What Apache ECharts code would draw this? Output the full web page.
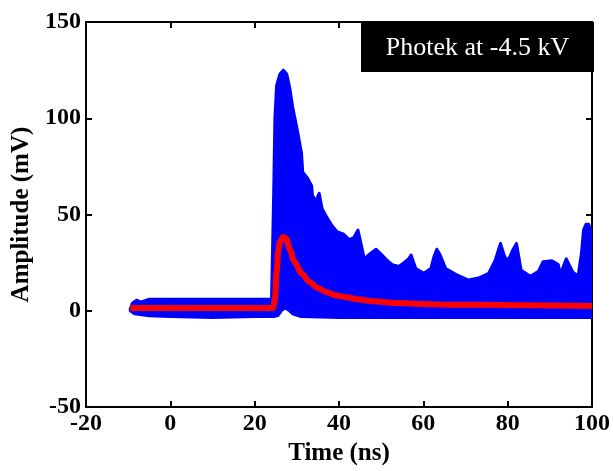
<!DOCTYPE html>
<html>
<head>
<meta charset="utf-8">
<script src="https://cdn.jsdelivr.net/npm/echarts@6/dist/echarts.min.js"></script>
<style>
  html, body { margin: 0; padding: 0; background: #fff; }
  #chart { width: 613px; height: 471px; }
</style>
</head>
<body>
<div id="chart"></div>
<script>
// Upper edge of the overlaid single-shot traces (ns, mV)
const upperTime = [-9.5, -9, -8, -7, -5, 0, 10, 20, 24.0, 24.5, 24.8, 25.2, 26.0, 26.8, 27.6, 28.3, 29.0, 30.1, 31.1, 31.4, 32.5, 33.5, 33.7, 34.5, 35.3, 36.0, 37.0, 38.4, 39.6, 41.0, 42.4, 43.5, 44.5, 45.2, 46.0, 47.0, 48.8, 50.2, 51.5, 52.6, 54.2, 55.4, 56.5, 57.1, 58.2, 60.1, 61.8, 62.5, 63.2, 64.0, 65.3, 67.7, 70.7, 73.1, 75.5, 77.0, 78.3, 79.0, 79.7, 80.5, 81.3, 82.1, 83.2, 85.4, 87.3, 88.4, 90.5, 92.0, 92.5, 93.9, 95.5, 96.7, 97.5, 98.0, 98.6, 99.2, 100];
const upperAmp  = [1, 4, 5.5, 4.5, 6, 6, 6, 6, 6, 60, 100, 117, 123, 125, 123, 116, 106, 94, 82, 72, 69, 65, 60, 57, 61, 53, 49, 44, 41, 40, 37, 38, 42, 35, 27, 29, 32, 29, 26, 24, 23, 25, 27, 29, 22, 19.5, 22, 28, 32, 29, 22, 19, 16, 17, 19.5, 26, 35, 30, 26, 28, 32, 35, 21, 18, 20.5, 25.5, 26, 24, 19, 27, 20, 18, 30, 42, 45, 45, 40];

// Lower edge of the overlaid single-shot traces (ns, mV)
const lowerTime = [-9.5, -8.5, -5, 0, 10, 20, 24.5, 25.5, 26.5, 27.3, 28.3, 29.0, 31.0, 40, 50, 60, 70, 80, 90, 100];
const lowerAmp  = [0, -1.5, -2.5, -3, -3.5, -3, -3, -2.5, 0.5, 1.5, 0, -1.5, -3, -3.5, -3.5, -3.5, -3.5, -3.5, -3.5, -3.5];

// Averaged waveform (ns, mV)
const meanTime = [-9.5, 0, 10, 20, 24.4, 24.8, 25.2, 25.6, 26.0, 26.8, 27.5, 28.3, 29.4, 31.1, 33.0, 34.9, 37.0, 39.3, 42.0, 44.3, 48, 54.2, 60, 66, 80, 100];
const meanAmp  = [1.5, 1.5, 1.5, 1.5, 1.5, 6, 20, 31, 36, 38.5, 37.5, 32, 25.6, 19.5, 15, 12, 9.7, 8, 7, 6, 5, 4, 3.5, 3.2, 3, 2.5];

// Axis ranges and tick steps
const xRange = { min: -20, max: 100, step: 20 };
const yRange = { min: -50, max: 150, step: 50 };
const boxLabel = 'Photek at -4.5 kV';

const serif = '"Liberation Serif", "Times New Roman", serif';
const chart = echarts.init(document.getElementById('chart'), null, { renderer: 'canvas' });

const axisLine = { show: true, onZero: false, lineStyle: { color: '#000', width: 2 } };
const axisTick = { show: true, inside: true, length: 6, lineStyle: { color: '#000', width: 2 } };
const tickFont = { color: '#000', fontFamily: serif, fontWeight: 'bold', fontSize: 24 };

chart.setOption({
  animation: false,
  backgroundColor: '#fff',
  grid: { left: 86, right: 19, top: 22, bottom: 58, containLabel: false },
  xAxis: [
    {
      type: 'value', position: 'bottom', min: xRange.min, max: xRange.max, interval: xRange.step,
      name: 'Time (ns)', nameLocation: 'middle', nameGap: 30,
      nameTextStyle: { color: '#000', fontFamily: serif, fontWeight: 'bold', fontSize: 25 },
      axisLine, axisTick, splitLine: { show: false },
      axisLabel: Object.assign({ margin: 5 }, tickFont)
    },
    {
      type: 'value', position: 'top', min: xRange.min, max: xRange.max, interval: xRange.step,
      axisLine, axisTick, splitLine: { show: false }, axisLabel: { show: false }
    }
  ],
  yAxis: [
    {
      type: 'value', position: 'left', min: yRange.min, max: yRange.max, interval: yRange.step,
      name: 'Amplitude (mV)', nameLocation: 'middle', nameGap: 49,
      nameTextStyle: { color: '#000', fontFamily: serif, fontWeight: 'bold', fontSize: 25 },
      axisLine, axisTick, splitLine: { show: false },
      axisLabel: Object.assign({ margin: 5 }, tickFont)
    },
    {
      type: 'value', position: 'right', min: yRange.min, max: yRange.max, interval: yRange.step,
      axisLine, axisTick, splitLine: { show: false }, axisLabel: { show: false }
    }
  ],
  series: [
    {
      // Band covered by all recorded traces
      type: 'custom',
      coordinateSystem: 'cartesian2d',
      clip: true,
      data: [[0, 0]],
      renderItem: function (params, api) {
        const top = upperTime.map((t, i) => api.coord([t, upperAmp[i]]));
        const bottom = lowerTime.map((t, i) => api.coord([t, lowerAmp[i]])).reverse();
        return {
          type: 'polygon',
          shape: { points: top.concat(bottom) },
          style: { fill: '#0000ff', stroke: '#0000ff', lineWidth: 3, lineJoin: 'round' }
        };
      },
      z: 2
    },
    {
      // Mean waveform
      type: 'line',
      data: meanTime.map((t, i) => [t, meanAmp[i]]),
      showSymbol: false,
      symbol: 'none',
      smooth: 0.3,
      smoothMonotone: 'x',
      lineStyle: { color: '#ff0000', width: 6 },
      z: 3
    }
  ],
  graphic: [
    {
      type: 'group',
      right: 19,
      top: 22,
      z: 10,
      children: [
        { type: 'rect', shape: { x: 0, y: 0, width: 233, height: 50 }, style: { fill: '#000' } },
        {
          type: 'text', x: 116.5, y: 26,
          style: {
            text: boxLabel, fill: '#fff', font: '26px ' + serif,
            textAlign: 'center', textVerticalAlign: 'middle'
          }
        }
      ]
    }
  ]
});
</script>
</body>
</html>
